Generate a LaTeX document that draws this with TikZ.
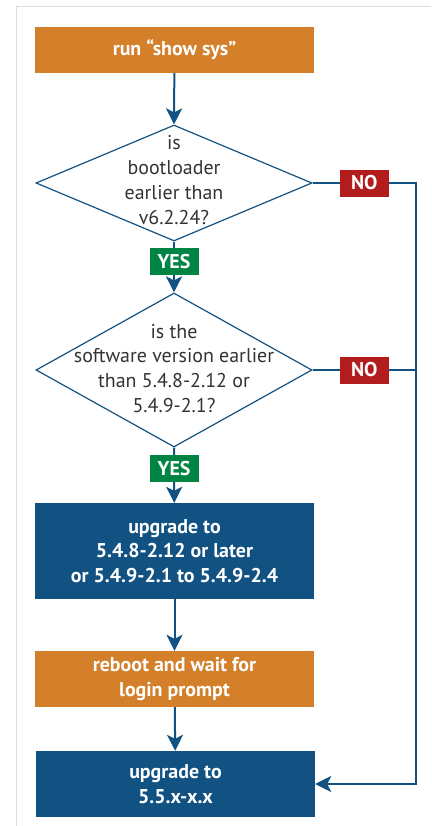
\documentclass[tikz,border=0pt]{standalone}
\usepackage{fontspec}
\setmainfont{PT Sans}
\usetikzlibrary{shapes.geometric, arrows.meta}
\definecolor{boxorange}{RGB}{212,128,42}
\definecolor{boxblue}{RGB}{17,82,131}
\definecolor{yesgreen}{RGB}{0,132,68}
\definecolor{nored}{RGB}{178,28,28}
\definecolor{framegray}{RGB}{221,221,221}
\definecolor{asktext}{RGB}{51,51,51}

\tikzset{
    stepbox/.style={rectangle, minimum width=279bp, inner sep=0pt, text=white,
        align=center, font=\fontsize{20}{24.5}\selectfont\bfseries},
    askbox/.style={diamond, draw=boxblue, line width=1.2bp, minimum width=276bp,
        inner sep=0pt},
    asktext/.style={align=center, text=asktext, font=\fontsize{20}{25}\selectfont},
    answer/.style={rectangle, minimum width=49bp, minimum height=27bp, inner sep=0pt,
        text=white, font=\fontsize{20}{22}\selectfont\bfseries},
    flow/.style={draw=boxblue, line width=2bp, -{Stealth[length=16bp, width=16bp, inset=4bp]}},
    flowline/.style={draw=boxblue, line width=2bp}
}

\begin{document}
\begin{tikzpicture}[x=1bp, y=-1bp]
        % page and light frame
        \useasboundingbox (0,0) rectangle (431,826);
        \draw[framegray, line width=1bp] (431,6) -- (16,6) -- (16,826); % frame

        % process boxes
        \node[stepbox, fill=boxorange, minimum height=46bp] (run) at (174.5,50) {run “show sys”};
        \node[stepbox, fill=boxblue, minimum height=96bp] (upa) at (174.5,551)
            {upgrade to\\5.4.8-2.12 or later\\or 5.4.9-2.1 to 5.4.9-2.4};
        \node[stepbox, fill=boxorange, minimum height=56bp] (boot) at (174.5,679)
            {reboot and wait for\\login prompt};
        \node[stepbox, fill=boxblue, minimum height=66bp] (upb) at (175.5,784)
            {upgrade to\\5.5.x-x.x};

        % decisions
        \node[askbox, minimum height=116bp] (askboot) at (174,183) {};
        \node[asktext] at (174,180) {is\\bootloader\\earlier than\\v6.2.24?};
        \node[askbox, minimum height=154bp] (asksw) at (174,370) {};
        \node[asktext] at (174,368.5) {is the\\software version earlier\\than 5.4.8-2.12 or\\5.4.9-2.1?};

        % right hand return line
        \coordinate (back) at (416,784);

        % connectors
        \draw[flow] (run) -- (askboot.north);
        \draw[flow] (askboot.south) -- node[answer, fill=yesgreen, pos=0.39] {YES} (asksw.north);
        \draw[flow] (asksw.south) -- node[answer, fill=yesgreen, pos=0.38] {YES} (upa);
        \draw[flow] (upa) -- (boot);
        \draw[flow] (boot) -- (upb);
        \draw[flow] (askboot.east) -- node[answer, fill=nored] {NO} (askboot.east -| back)
            -- (back) -- (upb.east);
        \draw[flowline] (asksw.east) -- node[answer, fill=nored] {NO} (asksw.east -| back);
    \end{tikzpicture}
\end{document}
